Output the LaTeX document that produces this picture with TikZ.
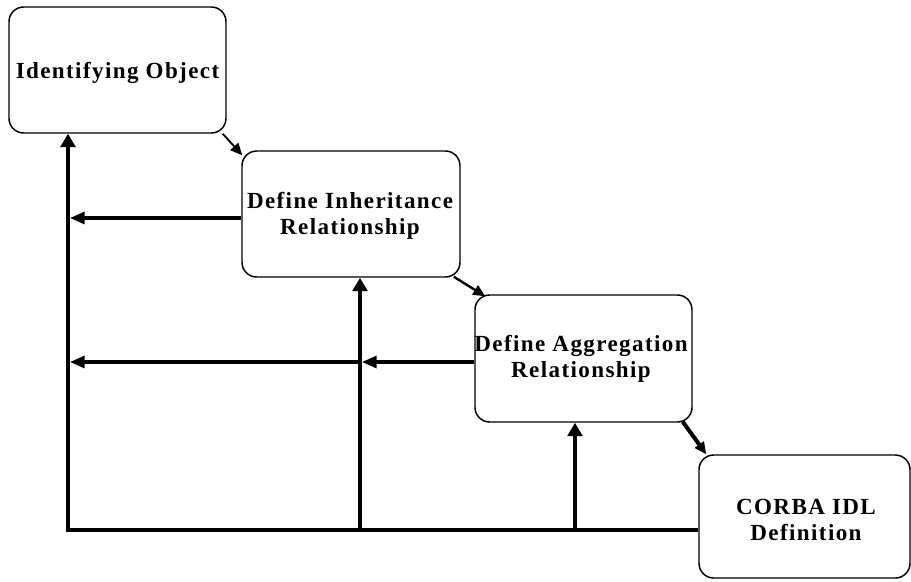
\documentclass[tikz,border=0pt]{standalone}
\usepackage{fontspec}
\setmainfont{Liberation Serif}[LetterSpace=6]
\usetikzlibrary{arrows.meta,calc}
\begin{document}
\begin{tikzpicture}[x=0.75pt,y=-0.75pt,
  stagebox/.style={draw,line width=1.1pt,rounded corners=11pt,rectangle,inner sep=0pt},
  stagetext/.style={font=\fontsize{17.3}{19.5}\selectfont\bfseries,align=center,inner sep=0pt},
  feedback/.style={line width=3pt},
  feedup/.style={line width=3pt,-{Triangle[length=10pt,width=11pt]}},
  feedleft/.style={line width=2.3pt,-{Triangle[length=11pt,width=9pt]}},
  flow/.style={-{Triangle[length=9pt,width=8pt]}}]
\useasboundingbox (0,0) rectangle (911,582);

% process stages
\node[stagebox,minimum width=162.75pt,minimum height=94.5pt] (b1) at (117.5,70) {};
\node[stagetext] (t1) at (117.5,73) {Identifying Object};
\node[stagebox,minimum width=163.5pt,minimum height=94.5pt] (b2) at (351,214) {};
\node[stagetext] (t2) at (350,216) {Define Inheritance\\Relationship};
\node[stagebox,minimum width=162.75pt,minimum height=95.25pt] (b3) at (583.5,358.5) {};
\node[stagetext] (t3) at (581,359) {Define Aggregation\\Relationship};
\node[stagebox,minimum width=158.25pt,minimum height=92.25pt] (b4) at (804.5,516.5) {};
\node[stagetext] (t4) at (806,520) {CORBA IDL\\Definition};

% forward flow between stages
\draw[flow,line width=1.4pt] ($(b1.south east)+(-4,0)$) -- ($(b2.north west)+(1,5)$);
\draw[flow,line width=1.8pt] ($(b2.south east)+(-7,-1)$) -- ($(b3.north west)+(11,2)$);
\draw[flow,line width=3pt] ($(b3.south east)+(-10,-1)$) -- ($(b4.north west)+(8,0)$);

% feedback network
\coordinate (c1) at (68,530);
\coordinate (j2) at (360,530);
\coordinate (j3) at (575,530);
\draw[feedup] (b4.west |- c1) -- (c1) -- (c1 |- b1.south);
\draw[feedup] (j2) -- (j2 |- b2.south);
\draw[feedup] (j3) -- (j3 |- b3.south);
\coordinate (m2) at ($(b2.west)+(0,4)$);
\draw[feedleft] (m2) -- ($(m2 -| c1)+(2,0)$);
\coordinate (m3) at ($(b3.west)+(0,3.5)$);
\draw[feedleft] (m3) -- ($(m3 -| j2)+(2,0)$);
\draw[feedleft] (m3 -| j2) -- ($(m3 -| c1)+(2,0)$);
\end{tikzpicture}
\end{document}
